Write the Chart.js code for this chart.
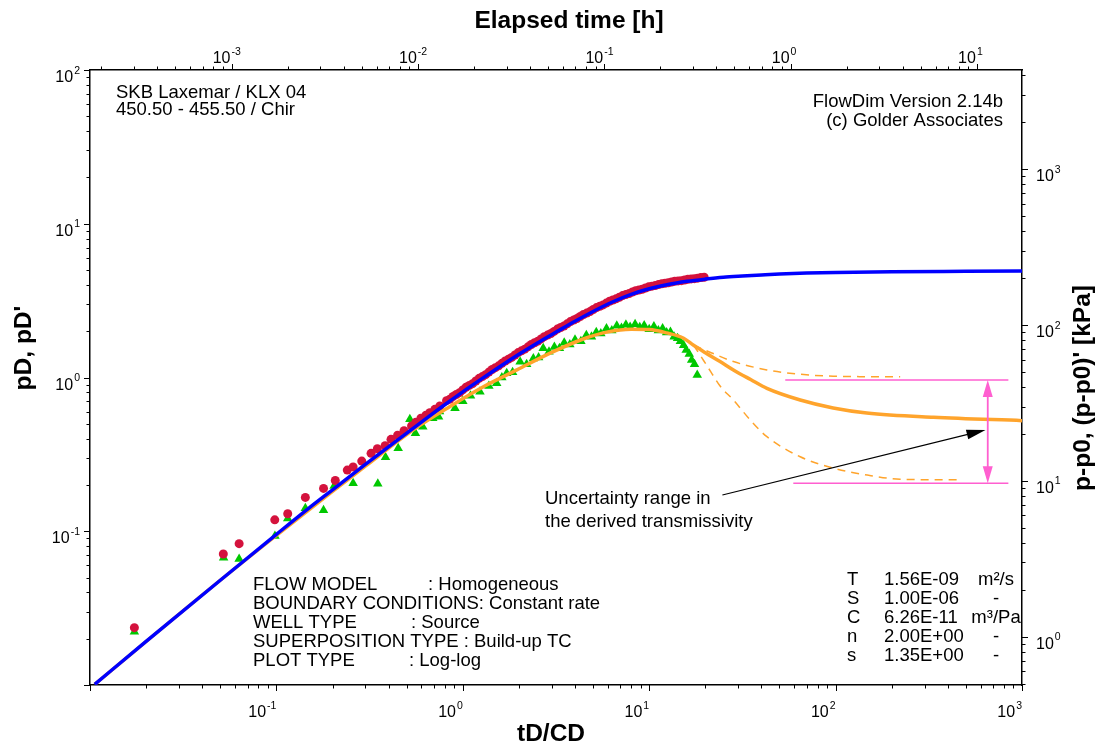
<!DOCTYPE html>
<html>
<head>
<meta charset="utf-8">
<script src="https://cdn.jsdelivr.net/npm/chart.js@4.4.1/dist/chart.umd.min.js"></script>
<style>
  body { margin: 0; background: #fff; }
  #wrap { width: 1100px; height: 744px; }
</style>
</head>
<body>
<div id="wrap"><canvas id="typeCurve" width="1100" height="744"></canvas></div>
<script>
// axis ranges
const tdRange = [0.01, 1000];          // tD/CD
const pdRange = [0.01, 100];           // pD, pD'
const hourRange = [1.74e-4, 17.46];    // elapsed time [h]
const kpaRange = [0.49, 4330];         // p-p0 [kPa]

// decade labels on each axis (exponents)
const bottomExp = [-1, 0, 1, 2, 3];
const topExp = [-3, -2, -1, 0, 1];
const leftExp = [-1, 0, 1, 2];
const rightExp = [0, 1, 2, 3];

// type curve pD
const modelTime = [0.0106, 0.02, 0.05, 0.1, 0.15, 0.2, 0.3, 0.45, 0.6, 0.8, 1.0, 1.25, 1.6, 2.0, 2.5, 3.2, 4.0, 5.0, 6.3, 8.0,
  10, 12.6, 16, 20, 25, 31.6, 40, 50, 70, 100, 200, 500, 1000];
const modelPD = [0.0101, 0.0192, 0.048, 0.0955, 0.142, 0.186, 0.272, 0.395, 0.513, 0.665, 0.807, 0.972, 1.189, 1.416, 1.673, 1.989, 2.323, 2.689, 3.086, 3.475,
  3.776, 4.027, 4.223, 4.365, 4.487, 4.571, 4.645, 4.710, 4.775, 4.819, 4.875, 4.909, 4.932];

// type curve derivative pD'
const derivTime = [0.0106, 0.05, 0.1, 0.2, 0.3, 0.54, 0.85, 1.29, 1.95, 2.94, 4.43, 6.0, 8.0, 10.0, 12.4, 15.3, 17.3, 20, 24, 28.3,
  35, 42.8, 64.6, 97, 147, 335, 1000];
const derivPD = [0.0101, 0.048, 0.094, 0.182, 0.265, 0.455, 0.646, 0.871, 1.12, 1.44, 1.78, 1.98, 2.06, 2.05, 1.95, 1.80, 1.62, 1.45, 1.27, 1.12,
  0.97, 0.85, 0.714, 0.634, 0.588, 0.551, 0.524];

// derivative bounds (transmissivity range)
const upperTime = [17.3, 21.5, 28.3, 42.8, 64.6, 97, 222];
const upperPD = [1.62, 1.45, 1.27, 1.12, 1.05, 1.02, 1.01];
const lowerTime = [17.3, 19.5, 21.5, 24, 28.3, 34.8, 42.8, 64.6, 97.5, 148, 222, 450];
const lowerPD = [1.62, 1.30, 1.08, 0.88, 0.714, 0.53, 0.412, 0.305, 0.257, 0.232, 0.218, 0.216];

// measured pressure
const pressTime = [0.0173, 0.0519, 0.0631, 0.098, 0.115, 0.143, 0.179, 0.207, 0.240, 0.258, 0.287, 0.322, 0.348, 0.383, 0.412,
  0.447, 0.484, 0.531, 0.560, 0.596, 0.634, 0.665, 0.708, 0.753, 0.818,
  0.851, 0.886, 0.923, 0.961, 1.0, 1.041, 1.084, 1.129, 1.175, 1.224, 1.274, 1.326, 1.380, 1.437, 1.496, 1.558, 1.622, 1.689,
  1.758, 1.830, 1.905, 1.983, 2.065, 2.150, 2.239, 2.331, 2.427, 2.527, 2.630, 2.738, 2.851, 2.968, 3.090, 3.217, 3.350, 3.488,
  3.631, 3.780, 3.936, 4.098, 4.266, 4.441, 4.624, 4.814, 5.012, 5.218, 5.433, 5.656, 5.888, 6.131, 6.383, 6.645, 6.918, 7.203,
  7.499, 7.807, 8.128, 8.462, 8.810, 9.173, 9.550, 9.942, 10.35, 10.78, 11.22, 11.68, 12.16, 12.66, 13.18, 13.72,
  14.29, 14.88, 15.49, 16.13, 16.79, 17.48, 18.20, 18.94, 19.72];
const pressPD = [0.0236, 0.0711, 0.083, 0.1186, 0.130, 0.166, 0.190, 0.214, 0.250, 0.262, 0.286, 0.321, 0.344, 0.360, 0.396,
  0.421, 0.451, 0.484, 0.512, 0.543, 0.568, 0.590, 0.621, 0.653, 0.707,
  0.721, 0.752, 0.775, 0.797, 0.830, 0.864, 0.888, 0.912, 0.949, 0.987, 1.014, 1.043, 1.084, 1.128, 1.159, 1.191, 1.236, 1.281,
  1.316, 1.351, 1.400, 1.452, 1.490, 1.528, 1.582, 1.640, 1.683, 1.724, 1.783, 1.843, 1.888, 1.933, 1.995, 2.064, 2.114, 2.164,
  2.234, 2.311, 2.367, 2.421, 2.495, 2.570, 2.625, 2.684, 2.767, 2.848, 2.905, 2.965, 3.049, 3.134, 3.192, 3.247, 3.327, 3.411,
  3.468, 3.520, 3.598, 3.667, 3.708, 3.752, 3.820, 3.886, 3.928, 3.962, 4.019, 4.073, 4.103, 4.130, 4.179, 4.224,
  4.247, 4.266, 4.306, 4.352, 4.377, 4.393, 4.427, 4.468, 4.489];

// measured derivative
const derivMeasTime = [0.0173, 0.0521, 0.0631, 0.0982, 0.115, 0.143, 0.179, 0.204, 0.258, 0.35, 0.385, 0.45, 0.52, 0.557, 0.61,
  0.69, 0.741, 0.75, 0.908, 1.0, 1.1, 1.236, 1.38, 1.52, 1.62, 1.72, 1.85, 2.03, 2.2, 2.39, 2.55, 2.70, 2.9, 3.1, 3.3, 3.5,
  3.75, 4.0, 4.3, 4.6, 4.9, 5.2, 5.5, 5.9, 6.3, 6.7, 7.1, 7.5, 7.9, 8.4, 8.9, 9.4, 10.0, 10.6, 11.2, 11.8, 12.4, 13.0, 13.6,
  14.2, 14.7, 15.3, 15.8, 16.4, 16.9, 17.5, 18.1];
const derivMeasPD = [0.0222, 0.0673, 0.0661, 0.0931, 0.121, 0.141, 0.137, 0.197, 0.205, 0.204, 0.303, 0.347, 0.535, 0.434, 0.479,
  0.543, 0.556, 0.60, 0.631, 0.70, 0.76, 0.809, 0.88, 0.917, 1.0, 1.064, 1.08, 1.267, 1.22, 1.33, 1.35, 1.55, 1.47, 1.58, 1.55, 1.68,
  1.64, 1.76, 1.72, 1.88, 1.84, 1.97, 1.93, 2.08, 2.02, 2.17, 2.10, 2.20, 2.13, 2.22, 2.12, 2.18, 2.06, 2.15, 2.02, 2.08, 1.96, 1.98, 1.84,
  1.80, 1.72, 1.62, 1.51, 1.42, 1.30, 1.22, 1.04];

// uncertainty band: bounds, x extent and arrow position
const bandHigh = 0.964, bandLow = 0.205;
const bandHighX = [53.7, 845], bandLowX = [59.3, 845];
const bandArrowX = 655;
// pointer from note to band: [x, y] tail and tip
const pointerFrom = [24.7, 0.172], pointerTo = [637, 0.456];

const FONT = "'Liberation Sans', Arial, sans-serif";
const pts = (xs, ys) => xs.map((v, i) => ({ x: v, y: ys[i] }));

function decadeTicks(min, max) {
  const out = [];
  for (let e = Math.floor(Math.log10(min)); e <= Math.ceil(Math.log10(max)); e++) {
    for (let m = 1; m < 10; m++) {
      const v = m * Math.pow(10, e);
      if (v >= min * 0.999 && v <= max * 1.001) out.push({ v, major: m === 1 });
    }
  }
  return out;
}

// "10" with a raised exponent, left edge at x, baseline at y
function powText(ctx, exp, x, y) {
  ctx.font = '16px ' + FONT;
  ctx.fillText('10', x, y);
  const wb = ctx.measureText('10').width;
  ctx.font = '10.5px ' + FONT;
  ctx.fillText(String(exp), x + wb + 1, y - 8.5);
}
function powWidth(ctx, exp) {
  ctx.font = '16px ' + FONT;
  const wb = ctx.measureText('10').width;
  ctx.font = '10.5px ' + FONT;
  return [wb, wb + 1 + ctx.measureText(String(exp)).width];
}

function arrowHead(ctx, x0, y0, x1, y1, len, half) {
  const a = Math.atan2(y1 - y0, x1 - x0);
  ctx.beginPath();
  ctx.moveTo(x1, y1);
  ctx.lineTo(x1 - len * Math.cos(a) + half * Math.sin(a), y1 - len * Math.sin(a) - half * Math.cos(a));
  ctx.lineTo(x1 - len * Math.cos(a) - half * Math.sin(a), y1 - len * Math.sin(a) + half * Math.cos(a));
  ctx.closePath();
  ctx.fill();
}

const frame = {
  id: 'frame',
  beforeDraw(chart) {
    const ctx = chart.ctx;
    ctx.save();
    ctx.fillStyle = '#fff';
    ctx.fillRect(0, 0, chart.width, chart.height);
    ctx.restore();
  },
  afterDraw(chart) {
    const ctx = chart.ctx;
    const { x, x2, y, y2 } = chart.scales;
    const area = chart.chartArea;
    ctx.save();
    ctx.strokeStyle = '#000';
    ctx.lineWidth = 1;

    // tick marks, pointing out of the frame
    ctx.beginPath();
    decadeTicks(tdRange[0], tdRange[1]).forEach(t => {
      const px = Math.round(x.getPixelForValue(t.v)) + 0.5;
      ctx.moveTo(px, area.bottom); ctx.lineTo(px, area.bottom + (t.major ? 6 : 3.5));
    });
    decadeTicks(hourRange[0], hourRange[1]).forEach(t => {
      const px = Math.round(x2.getPixelForValue(t.v)) + 0.5;
      ctx.moveTo(px, area.top); ctx.lineTo(px, area.top - (t.major ? 6 : 3.5));
    });
    decadeTicks(pdRange[0], pdRange[1]).forEach(t => {
      const py = Math.round(y.getPixelForValue(t.v)) + 0.5;
      ctx.moveTo(area.left, py); ctx.lineTo(area.left - (t.major ? 6 : 3.5), py);
    });
    decadeTicks(kpaRange[0], kpaRange[1]).forEach(t => {
      const py = Math.round(y2.getPixelForValue(t.v)) + 0.5;
      ctx.moveTo(area.right, py); ctx.lineTo(area.right + (t.major ? 6 : 3.5), py);
    });
    ctx.stroke();

    // tick labels
    ctx.fillStyle = '#000';
    ctx.textAlign = 'left';
    ctx.textBaseline = 'alphabetic';
    bottomExp.forEach(e => {
      const px = x.getPixelForValue(Math.pow(10, e));
      const [, w] = powWidth(ctx, e);
      powText(ctx, e, px - w, area.bottom + 32);
    });
    topExp.forEach(e => {
      const px = x2.getPixelForValue(Math.pow(10, e));
      const [wb] = powWidth(ctx, e);
      powText(ctx, e, px - 1 - wb, area.top - 7);
    });
    leftExp.forEach(e => {
      const py = y.getPixelForValue(Math.pow(10, e));
      const [, w] = powWidth(ctx, e);
      powText(ctx, e, area.left - 10 - w, py + 12);
    });
    rightExp.forEach(e => {
      const py = y2.getPixelForValue(Math.pow(10, e));
      powText(ctx, e, area.right + 14, py + 12);
    });

    // axis titles
    ctx.font = 'bold 24.5px ' + FONT;
    ctx.textAlign = 'center';
    ctx.fillText('Elapsed time [h]', 569, 28);
    ctx.fillText('tD/CD', 551, 741);
    ctx.save();
    ctx.translate(31, 348);
    ctx.rotate(-Math.PI / 2);
    ctx.fillText("pD, pD'", 0, 0);
    ctx.restore();
    ctx.save();
    ctx.translate(1090, 388);
    ctx.rotate(-Math.PI / 2);
    ctx.fillText("p-p0, (p-p0)' [kPa]", 0, 0);
    ctx.restore();

    // notes inside the frame
    ctx.font = '18.5px ' + FONT;
    ctx.textAlign = 'left';
    ctx.fillText('SKB Laxemar / KLX 04', 116, 98);
    ctx.fillText('450.50 - 455.50 / Chir', 116, 115);
    ctx.textAlign = 'right';
    ctx.fillText('FlowDim Version 2.14b', 1003, 107);
    ctx.fillText('(c) Golder Associates', 1003, 126);

    ctx.textAlign = 'left';
    const info = [
      ['FLOW MODEL', ': Homogeneous', 428],
      ['BOUNDARY CONDITIONS: Constant rate', '', 0],
      ['WELL TYPE', ': Source', 411],
      ['SUPERPOSITION TYPE : Build-up TC', '', 0],
      ['PLOT TYPE', ': Log-log', 409]
    ];
    info.forEach((r, i) => {
      const by = 590 + i * 19;
      ctx.fillText(r[0], 253, by);
      if (r[1]) ctx.fillText(r[1], r[2], by);
    });

    const params = [
      ['T', '1.56E-09', 'm\u00b2/s'],
      ['S', '1.00E-06', '-'],
      ['C', '6.26E-11', 'm\u00b3/Pa'],
      ['n', '2.00E+00', '-'],
      ['s', '1.35E+00', '-']
    ];
    params.forEach((r, i) => {
      const by = 585 + i * 19.1;
      ctx.textAlign = 'left';
      ctx.fillText(r[0], 847, by);
      ctx.fillText(r[1], 884, by);
      ctx.textAlign = 'center';
      ctx.fillText(r[2], 996, by);
    });

    ctx.textAlign = 'left';
    ctx.fillText('Uncertainty range in', 545, 504);
    ctx.fillText('the derived transmissivity', 545, 527);

    // pointer arrow
    const fx = x.getPixelForValue(pointerFrom[0]), fy = y.getPixelForValue(pointerFrom[1]);
    const tx = x.getPixelForValue(pointerTo[0]), ty = y.getPixelForValue(pointerTo[1]);
    const ang = Math.atan2(ty - fy, tx - fx);
    ctx.strokeStyle = '#000';
    ctx.lineWidth = 1.2;
    ctx.beginPath();
    ctx.moveTo(fx, fy);
    ctx.lineTo(tx - 12 * Math.cos(ang), ty - 12 * Math.sin(ang));
    ctx.stroke();
    ctx.fillStyle = '#000';
    arrowHead(ctx, fx, fy, tx, ty, 19, 5);

    // double arrow across the band
    const ax = x.getPixelForValue(bandArrowX);
    const hy = y.getPixelForValue(bandHigh), ly = y.getPixelForValue(bandLow);
    ctx.strokeStyle = '#ff5fd0';
    ctx.fillStyle = '#ff5fd0';
    ctx.lineWidth = 1.8;
    ctx.beginPath();
    ctx.moveTo(ax, hy + 10); ctx.lineTo(ax, ly - 10);
    ctx.stroke();
    arrowHead(ctx, ax, ly, ax, hy, 17, 5);
    arrowHead(ctx, ax, hy, ax, ly, 17, 5);
    ctx.restore();
  }
};

const fixedSize = px => ({ afterFit: s => { if (s.isHorizontal()) s.height = px; else s.width = px; } });
const axisBase = (range, pos, size) => Object.assign({
  type: 'logarithmic', position: pos, min: range[0], max: range[1],
  grid: { display: false }, ticks: { display: false },
  border: { display: true, color: '#000', width: 1.5 }
}, fixedSize(size));

new Chart(document.getElementById('typeCurve'), {
  type: 'scatter',
  data: {
    datasets: [
      { label: 'pD model', data: pts(modelTime, modelPD), showLine: true, borderColor: '#0000ff', borderWidth: 3.5,
        pointRadius: 0, cubicInterpolationMode: 'monotone', order: 1 },
      { label: "pD' model", data: pts(derivTime, derivPD), showLine: true, borderColor: '#ffa42c', borderWidth: 3.5,
        pointRadius: 0, cubicInterpolationMode: 'monotone', order: 2 },
      { label: 'upper bound', data: pts(upperTime, upperPD), showLine: true, borderColor: '#ffa42c', borderWidth: 1.5,
        borderDash: [8, 6], pointRadius: 0, cubicInterpolationMode: 'monotone', order: 3 },
      { label: 'lower bound', data: pts(lowerTime, lowerPD), showLine: true, borderColor: '#ffa42c', borderWidth: 1.5,
        borderDash: [8, 6], pointRadius: 0, cubicInterpolationMode: 'monotone', order: 3 },
      { label: 'band high', data: pts(bandHighX, [bandHigh, bandHigh]), showLine: true, borderColor: '#ff5fd0',
        borderWidth: 1.5, pointRadius: 0, order: 4 },
      { label: 'band low', data: pts(bandLowX, [bandLow, bandLow]), showLine: true, borderColor: '#ff5fd0',
        borderWidth: 1.5, pointRadius: 0, order: 4 },
      { label: 'pressure', data: pts(pressTime, pressPD), pointStyle: 'circle', pointRadius: 4.5,
        backgroundColor: '#d4123d', borderWidth: 0, order: 5 },
      { label: 'derivative', data: pts(derivMeasTime, derivMeasPD), pointStyle: 'triangle', pointRadius: 5.5,
        backgroundColor: '#00c800', borderWidth: 0, order: 6 }
    ]
  },
  options: {
    responsive: false,
    animation: false,
    devicePixelRatio: 1,
    layout: { padding: 0 },
    plugins: { legend: { display: false }, tooltip: { enabled: false } },
    scales: {
      x: axisBase(tdRange, 'bottom', 59),
      x2: axisBase(hourRange, 'top', 70),
      y: axisBase(pdRange, 'left', 90),
      y2: axisBase(kpaRange, 'right', 78)
    }
  },
  plugins: [frame]
});
</script>
</body>
</html>
